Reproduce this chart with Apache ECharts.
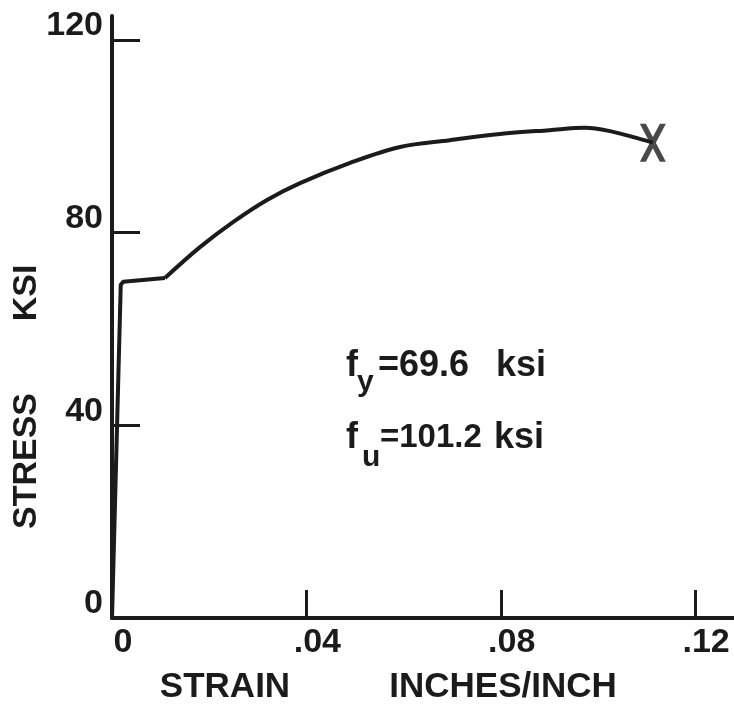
<!DOCTYPE html>
<html>
<head>
<meta charset="utf-8">
<script src="https://cdn.jsdelivr.net/npm/echarts@6/dist/echarts.min.js"></script>
<style>
  html, body { margin: 0; padding: 0; background: #fff; }
  #chart { width: 734px; height: 708px; }
</style>
</head>
<body>
<div id="chart"></div>
<script>
// elastic part + yield plateau (sharp corners)
const strainElastic = [0, 0.0018, 0.0023, 0.0109];
const stressElastic = [0, 69.2, 69.8, 70.6];
// strain hardening up to fracture
const strainHardening = [0.0109, 0.0181, 0.0249, 0.0319, 0.0387, 0.049, 0.0593, 0.0695, 0.0798, 0.09, 0.0974, 0.1025, 0.1086, 0.1113];
const stressHardening = [70.6, 77.0, 82.2, 86.8, 90.3, 94.5, 97.8, 99.2, 100.5, 101.3, 101.8, 101.1, 99.5, 98.7];
const fracture = [0.1113, 98.7];
const xTickValues = [0, 0.04, 0.08, 0.12];
const yTickValues = [0, 40, 80, 120];

const ink = '#1b1b1b';
const font = 'Liberation Sans';

const chart = echarts.init(document.getElementById('chart'));

const zip = (xs, ys) => xs.map((x, i) => [x, ys[i]]);

const txt = (text, x, y, size, align) => ({
  type: 'text',
  x: x,
  y: y,
  style: {
    text: text,
    font: 'bold ' + size + 'px "' + font + '"',
    fill: ink,
    align: align || 'left',
    verticalAlign: 'middle'
  }
});

chart.setOption({
  animation: false,
  backgroundColor: '#fff',
  grid: { left: 112, right: 0, top: 16, bottom: 90, containLabel: false, outerBoundsMode: 'none' },
  xAxis: {
    type: 'value',
    min: 0,
    max: 0.128,
    interval: 0.04,
    splitLine: { show: false },
    axisLine: { show: true, onZero: false, lineStyle: { color: ink, width: 4 } },
    axisTick: { show: true, inside: true, length: 28, customValues: xTickValues.slice(1), lineStyle: { color: ink, width: 3 } },
    axisLabel: {
      customValues: xTickValues,
      margin: 8,
      color: ink,
      fontFamily: font,
      fontWeight: 'bold',
      fontSize: 34,
      padding: [0, 0, 0, 22],
      formatter: (v) => (v === 0 ? '0' : String(v).replace('0.', '.'))
    }
  },
  yAxis: {
    type: 'value',
    min: 0,
    max: 125,
    interval: 40,
    splitLine: { show: false },
    axisLine: { show: true, onZero: false, lineStyle: { color: ink, width: 4 } },
    axisTick: { show: true, inside: true, length: 28, customValues: yTickValues.slice(1), lineStyle: { color: ink, width: 3 } },
    axisLabel: {
      customValues: yTickValues,
      margin: 9,
      color: ink,
      fontFamily: font,
      fontWeight: 'bold',
      fontSize: 34,
      lineHeight: 28,
      verticalAlign: 'bottom'
    }
  },
  series: [
    {
      name: 'elastic',
      type: 'line',
      data: zip(strainElastic, stressElastic),
      showSymbol: false,
      lineStyle: { color: ink, width: 4 },
      z: 3
    },
    {
      name: 'hardening',
      type: 'line',
      data: zip(strainHardening, stressHardening),
      smooth: 0.35,
      showSymbol: false,
      lineStyle: { color: ink, width: 4 },
      z: 3
    },
    {
      name: 'fracture',
      type: 'scatter',
      data: [fracture],
      symbol: 'path://M0,0L6,0L13,13.3L20,0L26,0L16,19L26,38L20,38L13,24.7L6,38L0,38L10,19Z',
      symbolSize: [26, 38],
      itemStyle: { color: ink },
      z: 4
    }
  ],
  graphic: [
    // axis titles
    txt('STRAIN', 225, 687, 35, 'center'),
    txt('INCHES/INCH', 503, 687, 35, 'center'),
    Object.assign(txt('KSI', 27, 293, 34, 'center'), { rotation: Math.PI / 2 }),
    Object.assign(txt('STRESS', 27, 461, 34, 'center'), { rotation: Math.PI / 2 }),
    // yield / ultimate annotations
    txt('f', 346, 366, 36),
    txt('y', 357, 383, 30),
    txt('=69.6', 378, 366, 36),
    txt('ksi', 496, 366, 36),
    txt('f', 346, 438, 36),
    txt('u', 362, 458, 30),
    txt('=101.2', 380, 438, 33),
    txt('ksi', 494, 438, 36)
  ]
});
</script>
</body>
</html>
